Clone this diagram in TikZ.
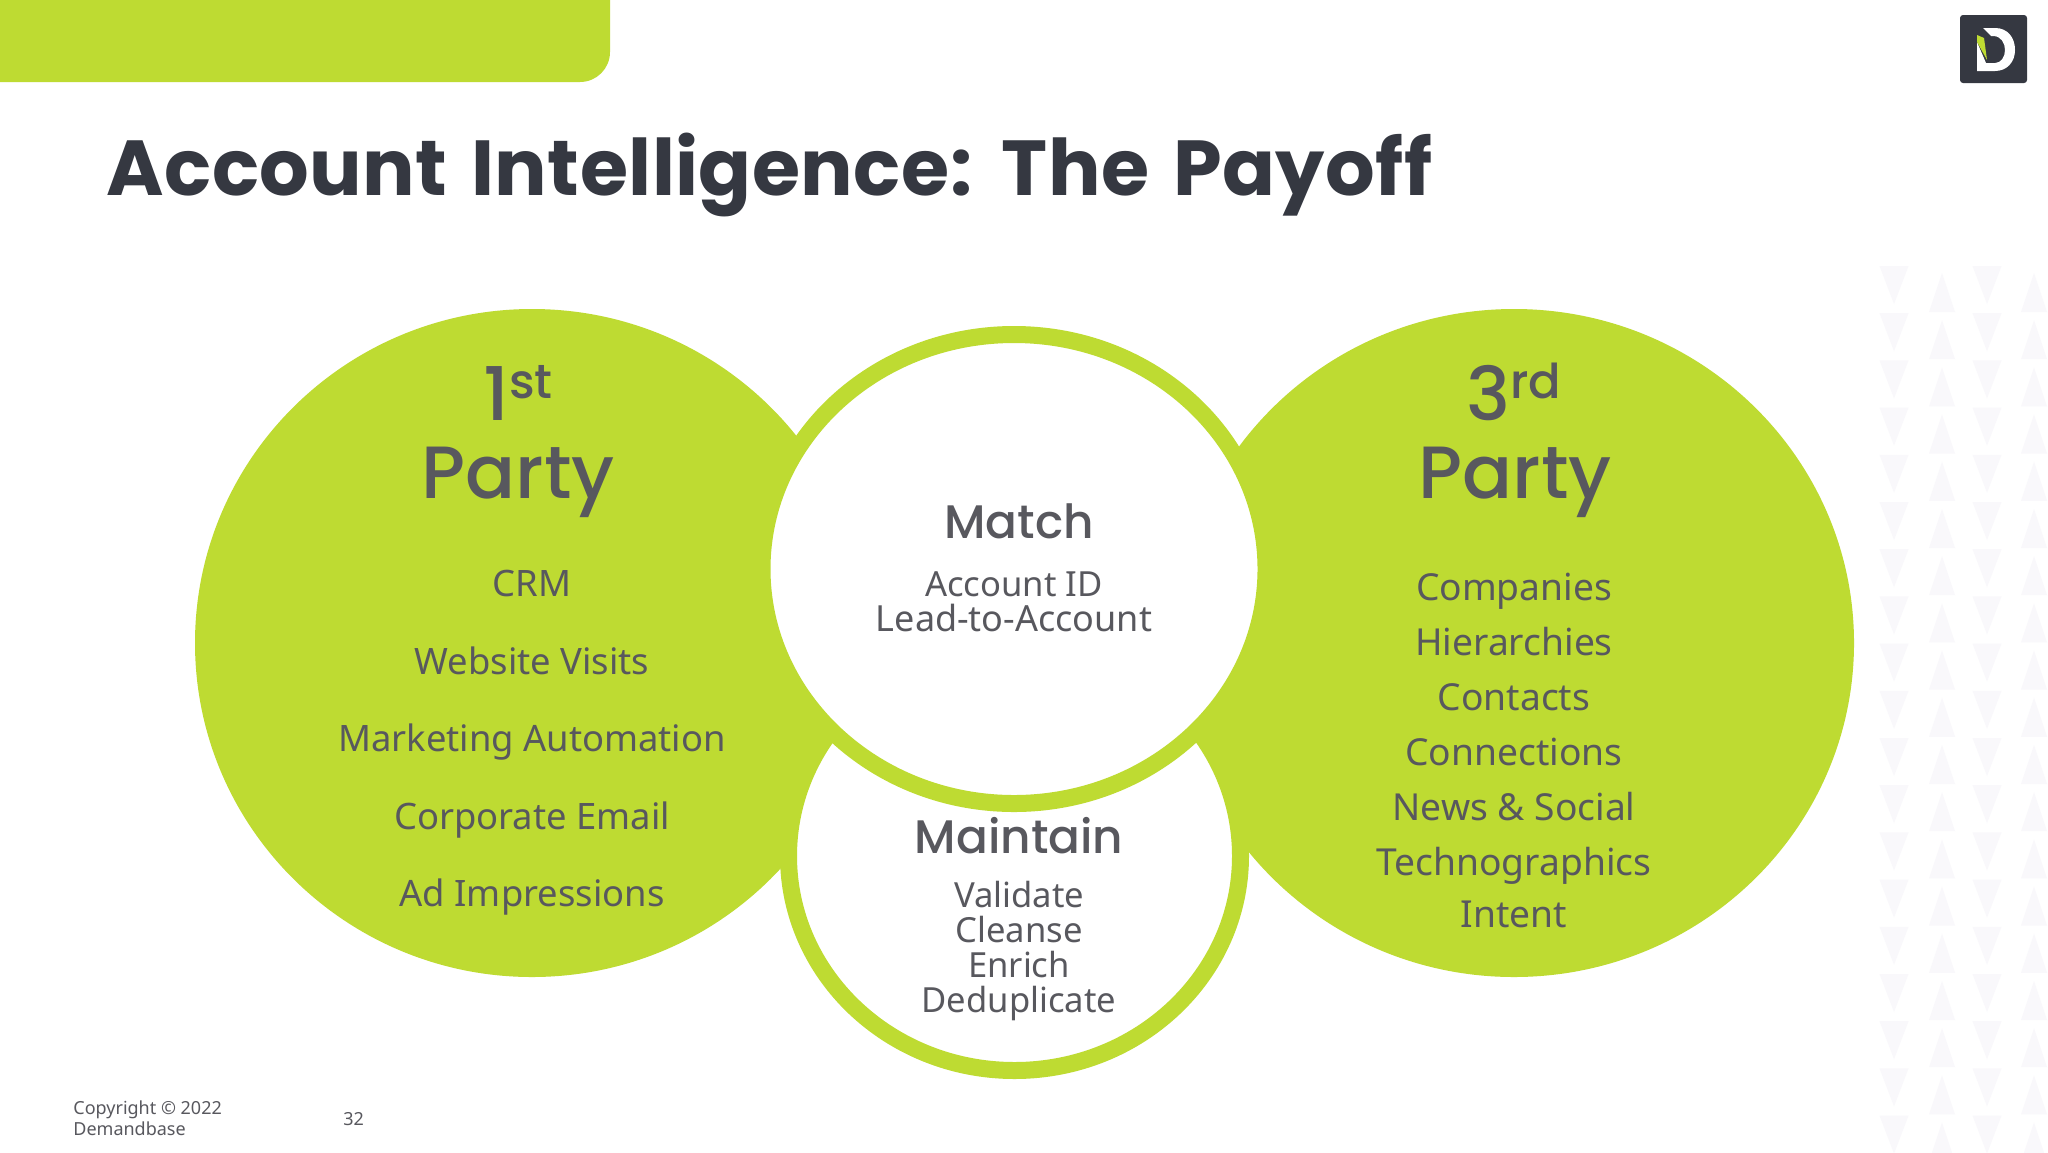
\documentclass[tikz,border=0pt]{standalone}
\usepackage{fontspec}
\setmainfont{Noto Sans}
\newfontfamily\headfont{Poppins Medium}
\newfontfamily\titlefont{Poppins}[LetterSpace=0.6,WordSpace=1.4]
\definecolor{lime}{HTML}{BEDB32}
\definecolor{ink}{HTML}{353841}
\definecolor{bodyc}{HTML}{58585E}
\definecolor{tri}{HTML}{F9F8FB}
\tikzset{
  x=0.5pt,y=-0.5pt,
  body/.style={anchor=base,inner sep=0pt,text=bodyc,font=\fontsize{18.6pt}{18.6pt}\selectfont},
  bodyleft/.style={body,font=\fontsize{18.2pt}{18.2pt}\selectfont},
  small/.style={anchor=base,inner sep=0pt,text=bodyc,font=\fontsize{17.3pt}{17.3pt}\selectfont},
  head/.style={anchor=base,inner sep=0pt,text=bodyc,font=\headfont\fontsize{23.5pt}{23.5pt}\selectfont},
  big/.style={anchor=base,inner sep=0pt,text=bodyc,font=\headfont\fontsize{37pt}{37pt}\selectfont},
  foot/.style={anchor=base west,inner sep=0pt,text=bodyc,font=\fontsize{9pt}{9pt}\selectfont},
  ring/.style={draw=lime,line width=8.5pt,fill=white},
}
\newcommand{\supr}[1]{\raisebox{11pt}{\fontsize{24pt}{24pt}\selectfont #1}}
\begin{document}
\begin{tikzpicture}
\useasboundingbox (0,0) rectangle (2048,1152);
\fill[white] (0,0) rectangle (2048,1152);
% triangle pattern
\begin{scope}
\clip (0,0) rectangle (2048,1152);
\foreach \k in {0,...,18}{
  \pgfmathsetmacro{\yy}{266+47.2*\k}
  \foreach \cx in {1894,1987}{
    \fill[tri] (\cx-14.5,\yy) -- (\cx+14.5,\yy) -- (\cx,\yy+38) -- cycle;
  }
  \foreach \cx in {1942,2034}{
    \fill[tri] (\cx-13,\yy+46) -- (\cx+13,\yy+46) -- (\cx,\yy+7) -- cycle;
  }
}
\end{scope}
% top tab
\fill[lime] (0,0) -- (610,0) -- (610,52) arc[start angle=0,end angle=90,radius=30] -- (0,82) -- cycle;
% logo
\fill[ink,rounded corners=1.5pt] (1960,15) rectangle (2027,83);
\fill[white] (1983,28) -- (1995,28) .. controls (2008,28) and (2015,38) .. (2015,50)
  .. controls (2015,62) and (2007,71) .. (1995,71) -- (1977,71) -- (1977,42) -- (1986,63) -- (1995,63)
  .. controls (2001,63) and (2005,57) .. (2005,50) .. controls (2005,43) and (2001,36) .. (1993,36) -- (1991,36) -- cycle;
\fill[lime] (1977,35) -- (1984,38) -- (1987,60) -- (1977,42) -- cycle;
% title
\node[anchor=base west,inner sep=0pt,text=ink,font=\titlefont\bfseries\fontsize{39pt}{39pt}\selectfont] (title) at (106,195) {Account Intelligence: The Payoff};
% circles
\fill[lime] (532,643) ellipse[x radius=337,y radius=334];
\fill[lime] (1514,643) ellipse[x radius=340,y radius=334];
\draw[ring] (1014.5,856) ellipse[x radius=226,y radius=214.5];
\draw[ring] (1014,569) ellipse[x radius=252,y radius=234.5];
% left
\node[big] (firstnum) at (518,420) {1\supr{st}};
\node[big] (firstparty) at (518,498) {Party};
\node[bodyleft] (crm) at (532,596) {CRM};
\node[bodyleft] (web) at (532,674) {Website Visits};
\node[bodyleft] (mkt) at (532,751) {Marketing Automation};
\node[bodyleft] (mail) at (532,829) {Corporate Email};
\node[bodyleft] (ads) at (532,906) {Ad Impressions};
% match
\node[head] (match) at (1019,538) {Match};
\node[small] (acct) at (1014,596) {Account ID};
\node[small,font=\fontsize{18pt}{18pt}\selectfont] (lead) at (1014,631) {Lead-to-Account};
% maintain
\node[head] (maintain) at (1019,853) {Maintain};
\node[small] (val) at (1019,907) {Validate};
\node[small] (cle) at (1019,942) {Cleanse};
\node[small] (enr) at (1019,977) {Enrich};
\node[small] (ded) at (1019,1012) {Deduplicate};
% right
\node[body] (comp) at (1514,600) {Companies};
\node[body] (hier) at (1514,655) {Hierarchies};
\node[body] (cont) at (1514,710) {Contacts};
\node[body] (conn) at (1514,765) {Connections};
\node[body] (news) at (1514,820) {News \& Social};
\node[body] (tech) at (1514,875) {Technographics};
\node[body] (intent) at (1514,927) {Intent};
\node[big] (thirdnum) at (1514,420) {3\supr{rd}};
\node[big] (thirdparty) at (1515,498) {Party};
% footer
\node[foot] (copy1) at (73,1114) {Copyright © 2022};
\node[foot] (copy2) at (73,1135) {Demandbase};
\node[foot] (page) at (343,1125) {32};
\end{tikzpicture}
\end{document}
